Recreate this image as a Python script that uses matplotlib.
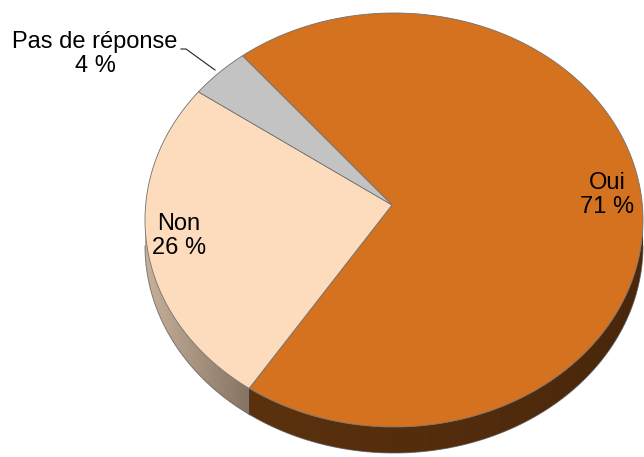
import numpy as np
import matplotlib
matplotlib.use('Agg')
import matplotlib.pyplot as plt
from matplotlib.patches import Polygon
from matplotlib.colors import to_rgb

# ---- data ----
labels = ['Oui', 'Non', 'Pas de réponse']
values = [71, 26, 4]
pct_labels = ['71 %', '26 %', '4 %']

# ---- style ----
top_colors = ['#d4721f', '#fddcbd', '#c3c3c3']
side_colors = [('#5c320e', '#4a270b'), ('#c8b19a', '#857363'), ('#9a9a9a', '#8a8a8a')]

W, H = 644, 457
fig = plt.figure(figsize=(6.44, 4.57), dpi=100)
ax = fig.add_axes([0, 0, 1, 1])
ax.set_xlim(0, W)
ax.set_ylim(H, 0)
ax.axis('off')

cx, cy, rx, ry = 394, 220, 249, 207
apex = (392, 205)
depth = 26
start = -37.5

fracs = np.array(values, dtype=float) / sum(values)
bounds = start + 360 * np.concatenate([[0], np.cumsum(fracs)])


def rim(t):
    t = np.radians(t)
    return cx + rx * np.sin(t), cy - ry * np.cos(t)


# sides
for i in range(len(values)):
    a0, a1 = bounds[i], bounds[i + 1]
    for k in (-360, 0, 360):
        lo, hi = max(a0, 90 + k), min(a1, 270 + k)
        if hi <= lo:
            continue
        ts = np.linspace(lo, hi, 200)
        top = [rim(t) for t in ts]
        bot = [(x, y + depth) for x, y in top][::-1]
        poly = Polygon(top + bot, closed=True, facecolor='none', edgecolor='none', zorder=1)
        ax.add_patch(poly)
        xs = [p[0] for p in top]
        ys = [p[1] for p in top]
        xmin, xmax = min(xs), max(xs)
        ymin, ymax = min(ys), max(ys) + depth
        c1, c2 = np.array(to_rgb(side_colors[i][0])), np.array(to_rgb(side_colors[i][1]))
        f = np.linspace(0, 1, 256)[None, :, None]
        img = np.repeat(c1 + (c2 - c1) * f, 2, axis=0)
        im = ax.imshow(img, extent=(xmin, xmax, ymax, ymin), aspect='auto',
                       interpolation='bilinear', zorder=1)
        im.set_clip_path(poly)
        xb, yb = zip(*top)
        ax.plot(xb, np.array(yb) + depth, color='#555555', lw=0.7, alpha=0.7, zorder=2)
        for t in (lo, hi):
            if 90 < (t % 360) < 270:
                x, y = rim(t)
                ax.plot([x, x], [y, y + depth], color='#333333', lw=0.6, alpha=0.6, zorder=2)

ax.set_xlim(0, W)
ax.set_ylim(H, 0)

# top faces
for i in range(len(values)):
    ts = np.linspace(bounds[i], bounds[i + 1], 200)
    pts = [apex] + [rim(t) for t in ts]
    ax.add_patch(Polygon(pts, closed=True, facecolor=top_colors[i],
                         edgecolor='#707070', lw=0.6, zorder=3))

# labels
fs = 17
fam = 'Liberation Sans'
ax.text(607, 195, labels[0] + '\n' + pct_labels[0], ha='center', va='center',
        fontsize=fs, family=fam, zorder=5, linespacing=1.1)
ax.text(179, 236, labels[1] + '\n' + pct_labels[1], ha='center', va='center',
        fontsize=fs, family=fam, zorder=5, linespacing=1.1)
ax.text(95, 54, labels[2] + '\n' + pct_labels[2], ha='center', va='center',
        fontsize=fs, family=fam, zorder=5, linespacing=1.1)
ax.plot([181, 186, 215], [49, 49, 70], color='#222222', lw=0.8, zorder=5)

fig.savefig('out.png', dpi=100)
